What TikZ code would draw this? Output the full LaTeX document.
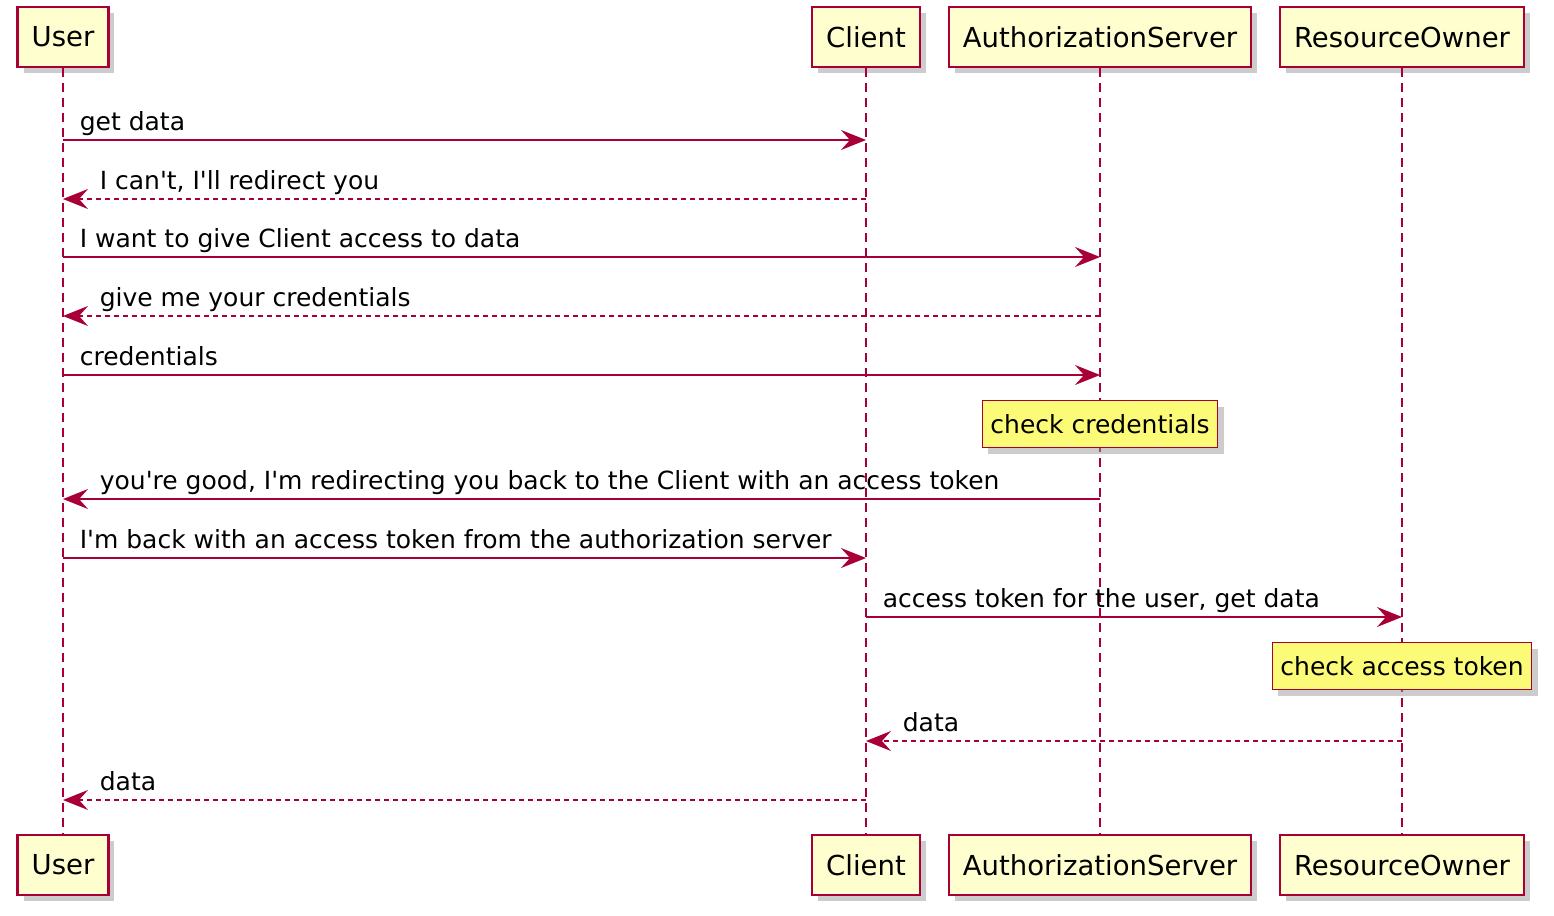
\documentclass[tikz,border=0pt]{standalone}
\usepackage{fontspec}
\setmainfont{DejaVu Sans}[Ligatures=TeXOff]
\usetikzlibrary{arrows.meta,shadows}
\definecolor{umlred}{HTML}{A80036}
\definecolor{umlbox}{HTML}{FEFECE}
\definecolor{umlnote}{HTML}{FBFB77}
\begin{document}
\begin{tikzpicture}[x=1pt,y=-1pt,
  every node/.style={font=\fontsize{25}{30}\selectfont,text=black},
  actor/.style={draw=umlred,line width=2.5pt,fill=umlbox,minimum height=60pt,inner xsep=14pt,
    font=\fontsize{27.5}{32}\selectfont,
    drop shadow={shadow xshift=6pt,shadow yshift=-6pt,fill=black!40,opacity=0.5}},
  notebox/.style={draw=umlred,line width=1.3pt,fill=umlnote,minimum height=47pt,inner xsep=8pt,
    drop shadow={shadow xshift=6pt,shadow yshift=-6pt,fill=black!40,opacity=0.5}},
  life/.style={umlred,line width=1.8pt,dash pattern=on 9pt off 6pt},
  msg/.style={umlred,line width=1.6pt,-{Stealth[length=25pt,width=20pt,inset=9pt]}},
  reply/.style={msg,dash pattern=on 5pt off 4pt},
  lblr/.style={anchor=base west,inner sep=0pt,xshift=16pt,yshift=10pt},
  lbll/.style={anchor=base west,inner sep=0pt,xshift=36pt,yshift=10pt}]
\useasboundingbox (0,0) rectangle (1554,915);
% participants, top and bottom
\node[actor] (userTop) at (63,37) {User};
\node[actor] (clientTop) at (866,37) {Client};
\node[actor] (authTop) at (1100,37) {AuthorizationServer};
\node[actor] (ownerTop) at (1402,37) {ResourceOwner};
\node[actor] (userBot) at (63,865) {User};
\node[actor] (clientBot) at (866,865) {Client};
\node[actor] (authBot) at (1100,865) {AuthorizationServer};
\node[actor] (ownerBot) at (1402,865) {ResourceOwner};
% lifelines
\draw[life] (userTop.south) -- (userBot.north);
\draw[life] (clientTop.south) -- (clientBot.north);
\draw[life] (authTop.south) -- (authBot.north);
\draw[life] (ownerTop.south) -- (ownerBot.north);
% notes
\node[notebox] (checkCred) at (authTop |- 0,424) {check credentials};
\node[notebox] (checkTok) at (ownerTop |- 0,666) {check access token};
% messages
\draw[msg] (userTop |- 0,140) -- (clientTop |- 0,140) node[lblr,pos=0] (m1) {get data};
\draw[reply] (clientTop |- 0,199) -- (userTop |- 0,199) node[lbll,pos=1] (m2) {I can't, I'll redirect you};
\draw[msg] (userTop |- 0,257) -- (authTop |- 0,257) node[lblr,pos=0] (m3) {I want to give Client access to data};
\draw[reply] (authTop |- 0,316) -- (userTop |- 0,316) node[lbll,pos=1] (m4) {give me your credentials};
\draw[msg] (userTop |- 0,375) -- (authTop |- 0,375) node[lblr,pos=0] (m5) {credentials};
\draw[msg] (authTop |- 0,499) -- (userTop |- 0,499) node[lbll,pos=1] (m6) {you're good, I'm redirecting you back to the Client with an access token};
\draw[msg] (userTop |- 0,558) -- (clientTop |- 0,558) node[lblr,pos=0] (m7) {I'm back with an access token from the authorization server};
\draw[msg] (clientTop |- 0,617) -- (ownerTop |- 0,617) node[lblr,pos=0] (m8) {access token for the user, get data};
\draw[reply] (ownerTop |- 0,741) -- (clientTop |- 0,741) node[lbll,pos=1] (m9) {data};
\draw[reply] (clientTop |- 0,800) -- (userTop |- 0,800) node[lbll,pos=1] (m10) {data};
\end{tikzpicture}
\end{document}
